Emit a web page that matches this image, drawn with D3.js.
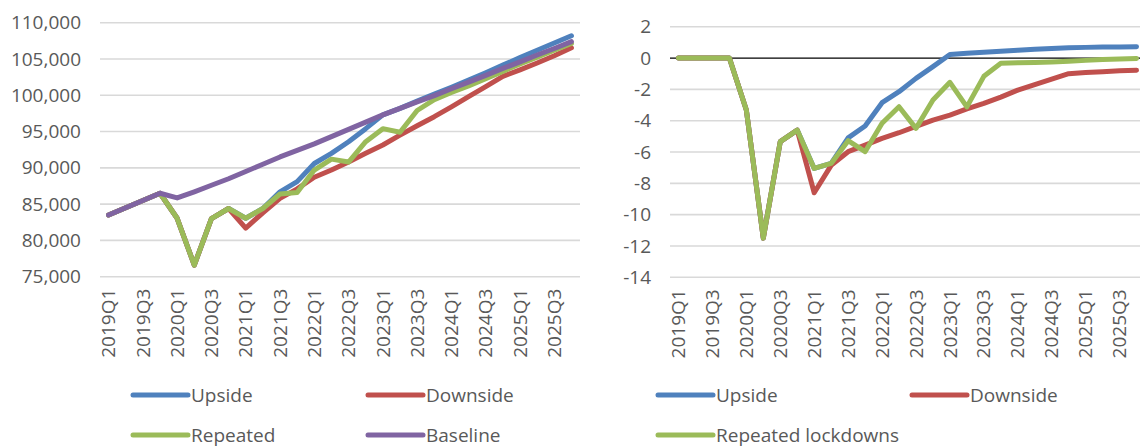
<!DOCTYPE html>
<html>
<head>
<meta charset="utf-8">
<script src="https://cdn.jsdelivr.net/npm/d3@7"></script>
<style>
  body { margin: 0; background: #fff; }
  svg { display: block; font-family: "Open Sans", Lato, sans-serif; }
</style>
</head>
<body>
<svg id="chart" width="1140" height="447"></svg>
<script>
// quarters shown on both charts
const quarters = ["2019Q1", "2019Q2", "2019Q3", "2019Q4", "2020Q1", "2020Q2", "2020Q3", "2020Q4",
    "2021Q1", "2021Q2", "2021Q3", "2021Q4", "2022Q1", "2022Q2", "2022Q3", "2022Q4",
    "2023Q1", "2023Q2", "2023Q3", "2023Q4", "2024Q1", "2024Q2", "2024Q3", "2024Q4",
    "2025Q1", "2025Q2", "2025Q3", "2025Q4"];
const tickLabels = ["2019Q1", "2019Q3", "2020Q1", "2020Q3", "2021Q1", "2021Q3", "2022Q1",
    "2022Q3", "2023Q1", "2023Q3", "2024Q1", "2024Q3", "2025Q1", "2025Q3"];

// left chart: GDP level
const leftUpside = [83500, 84500, 85500, 86500, 83050, 76600, 83000, 84400, 83050, 84400, 86700, 88100, 90600, 92000,
    93600, 95400, 97300, 98200, 99200, 100150, 101100, 102100, 103100, 104150, 105200, 106200, 107200, 108200];
const leftDownside = [83500, 84500, 85500, 86500, 83050, 76600, 83000, 84400, 81700, 83800, 85800, 87100, 88700, 89700,
    90800, 92000, 93150, 94500, 95800, 97050, 98400, 99800, 101200, 102600, 103500, 104450, 105450, 106550];
const leftRepeated = [83500, 84500, 85500, 86500, 83050, 76600, 83000, 84400, 83050, 84400, 86400, 86600, 89700, 91200,
    90800, 93600, 95400, 94900, 97900, 99400, 100400, 101300, 102300, 103300, 104300, 105250, 106200, 107150];
const leftBaseline = [83500, 84500, 85500, 86500, 85850, 86700, 87600, 88500, 89500, 90500, 91500, 92400, 93300, 94300,
    95300, 96300, 97300, 98200, 99100, 99950, 100900, 101800, 102750, 103700, 104600, 105550, 106450, 107400];
const leftTicks = [75000, 80000, 85000, 90000, 95000, 100000, 105000, 110000];

// right chart: deviation from baseline
const rightUpside = [0, 0, 0, 0, -3.32, -11.5, -5.34, -4.6, -7.05, -6.73, -5.1, -4.34, -2.85, -2.15,
    -1.3, -0.55, 0.22, 0.3, 0.37, 0.44, 0.5, 0.56, 0.61, 0.65, 0.68, 0.7, 0.71, 0.72];
const rightDownside = [0, 0, 0, 0, -3.32, -11.5, -5.34, -4.6, -8.6, -6.85, -5.98, -5.56, -5.13, -4.77,
    -4.37, -3.96, -3.64, -3.25, -2.9, -2.5, -2.05, -1.7, -1.35, -1.0, -0.93, -0.87, -0.82, -0.78];
const rightRepeated = [0, 0, 0, 0, -3.32, -11.5, -5.34, -4.6, -7.05, -6.73, -5.28, -5.98, -4.17, -3.11,
    -4.49, -2.68, -1.55, -3.12, -1.17, -0.34, -0.3, -0.28, -0.25, -0.2, -0.15, -0.1, -0.06, -0.03];
const rightTicks = [-14, -12, -10, -8, -6, -4, -2, 0, 2];

const colors = { up: "#4f81bd", down: "#c0504d", rep: "#9bbb59", base: "#8064a2" };
const textColor = "#595959";
const gridColor = "#d9d9d9";
const fontSize = 19;

const svg = d3.select("#chart");
svg.append("rect").attr("width", 1140).attr("height", 447).attr("fill", "#fff");

function drawPanel(opts) {
    const g = svg.append("g");
    const x = d3.scalePoint().domain(quarters).range([opts.left, opts.right]).padding(0.5);
    const y = d3.scaleLinear().domain(opts.domain).range([opts.bottom, opts.top]);

    // gridlines
    g.selectAll(".grid").data(opts.ticks).join("line")
        .attr("x1", opts.left).attr("x2", Math.min(opts.right, 1140))
        .attr("y1", d => y(d)).attr("y2", d => y(d))
        .attr("stroke", d => (opts.zeroBlack && d === 0) ? "#000" : gridColor)
        .attr("stroke-width", d => (opts.zeroBlack && d === 0) ? 1.3 : 1.6);

    // y labels
    g.selectAll(".ylab").data(opts.ticks).join("text")
        .attr("x", opts.labelX).attr("y", d => y(d))
        .attr("dy", "0.35em")
        .attr("text-anchor", "end")
        .attr("font-size", fontSize).attr("fill", textColor)
        .text(opts.fmt);

    // x labels, rotated
    g.selectAll(".xlab").data(tickLabels).join("text")
        .attr("transform", d => `translate(${x(d)},${opts.bottom + 12}) rotate(-90)`)
        .attr("text-anchor", "end")
        .attr("dy", "0.35em")
        .attr("font-size", fontSize).attr("fill", textColor)
        .text(d => d);

    const line = d3.line().x((d, i) => x(quarters[i])).y(d => y(d));
    opts.series.forEach(s => {
        g.append("path").datum(s.values)
            .attr("d", line)
            .attr("fill", "none")
            .attr("stroke", s.color)
            .attr("stroke-width", 5)
            .attr("stroke-linejoin", "round")
            .attr("stroke-linecap", "round");
    });

    // legend
    opts.series.forEach((s, i) => {
        const lx = opts.legendX + (i % 2) * opts.legendGap;
        const ly = 395 + Math.floor(i / 2) * 40;
        g.append("line").attr("x1", lx).attr("x2", lx + 55).attr("y1", ly).attr("y2", ly)
            .attr("stroke", s.color).attr("stroke-width", 5).attr("stroke-linecap", "round");
        g.append("text").attr("x", lx + 58).attr("y", ly).attr("dy", "0.35em")
            .attr("font-size", fontSize).attr("fill", textColor).text(s.name);
    });
}

drawPanel({
    left: 100, right: 580, top: 22.7, bottom: 276.7,
    domain: [75000, 110000], ticks: leftTicks, labelX: 81,
    fmt: d3.format(","), zeroBlack: false,
    legendX: 133, legendGap: 235,
    series: [
        { name: "Upside", values: leftUpside, color: colors.up },
        { name: "Downside", values: leftDownside, color: colors.down },
        { name: "Repeated", values: leftRepeated, color: colors.rep },
        { name: "Baseline", values: leftBaseline, color: colors.base }
    ]
});

drawPanel({
    left: 670, right: 1145, top: 26.7, bottom: 277.3,
    domain: [-14, 2], ticks: rightTicks, labelX: 651,
    fmt: d => d3.format("d")(d).replace("−", "-"), zeroBlack: true,
    legendX: 658, legendGap: 254,
    series: [
        { name: "Upside", values: rightUpside, color: colors.up },
        { name: "Downside", values: rightDownside, color: colors.down },
        { name: "Repeated lockdowns", values: rightRepeated, color: colors.rep }
    ]
});
</script>
</body>
</html>
